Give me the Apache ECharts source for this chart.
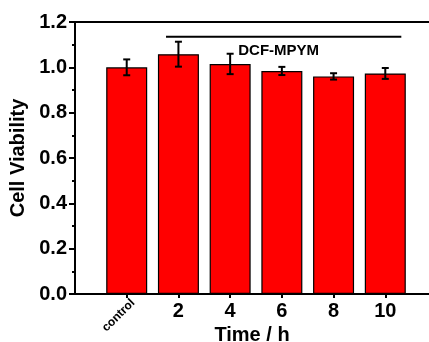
<!DOCTYPE html>
<html>
<head>
<meta charset="utf-8">
<script src="https://cdn.jsdelivr.net/npm/echarts@6/dist/echarts.min.js"></script>
<style>html,body{margin:0;padding:0;background:#fff}#c{width:429px;height:342px}</style>
</head>
<body>
<div id="c"></div>
<script>
var categories = ['control', '2', '4', '6', '8', '10'];
var viability = [1.000, 1.058, 1.015, 0.984, 0.960, 0.973];
var errors = [0.035, 0.055, 0.045, 0.018, 0.014, 0.024];
var groupLabel = 'DCF-MPYM';
var groupSpan = [0.76, 5.31];
var groupLevel = 1.135;
var yTicks = [0, 0.2, 0.4, 0.6, 0.8, 1.0, 1.2];

var FONT = '"Liberation Sans", Arial, sans-serif';
var chart = echarts.init(document.getElementById('c'), null, {renderer: 'canvas'});

var barData = viability.map(function (v, i) { return [i, v]; });
var errData = viability.map(function (v, i) { return [i, v, errors[i]]; });

chart.setOption({
  animation: false,
  grid: {left: 75, top: 22, right: -8, bottom: 48, containLabel: false, outerBoundsMode: 'none'},
  xAxis: [
    {
      type: 'value', position: 'bottom', min: -1, max: 6, interval: 1,
      splitLine: {show: false},
      axisLine: {show: true, onZero: false, lineStyle: {color: '#000', width: 2}},
      axisTick: {show: true, inside: false, length: 4, lineStyle: {color: '#000', width: 2},
        customValues: [0, 1, 2, 3, 4, 5]},
      axisLabel: {
        color: '#000', fontFamily: FONT, fontWeight: 'bold', fontSize: 20, margin: 7,
        customValues: [1, 2, 3, 4, 5],
        formatter: function (v) { return (v >= 1 && v <= 5) ? categories[v] : ''; }
      },
      name: 'Time / h', nameLocation: 'middle', nameGap: 29,
      nameTextStyle: {color: '#000', fontFamily: FONT, fontWeight: 'bold', fontSize: 20, padding: [0, 8, 0, 0]}
    },
    {
      type: 'value', position: 'bottom', offset: 0, min: -1.12, max: 5.88, interval: 1,
      splitLine: {show: false}, axisLine: {show: false}, axisTick: {show: false},
      axisLabel: {
        color: '#000', fontFamily: FONT, fontWeight: 'bold', fontSize: 12, rotate: 45, margin: 7,
        customValues: [0],
        formatter: function (v) { return v === 0 ? categories[0] : ''; }
      }
    },
    {
      type: 'value', position: 'top', min: -1, max: 6,
      splitLine: {show: false},
      axisLine: {show: true, onZero: false, lineStyle: {color: '#000', width: 2}},
      axisTick: {show: false}, axisLabel: {show: false}
    }
  ],
  yAxis: {
    type: 'value', min: 0, max: 1.2, interval: 0.2,
    splitLine: {show: false},
    axisLine: {show: true, onZero: false, lineStyle: {color: '#000', width: 2}},
    axisTick: {show: true, inside: false, length: 6, lineStyle: {color: '#000', width: 2}},
    minorTick: {show: true, splitNumber: 2, length: 3, lineStyle: {color: '#000', width: 2}},
    axisLabel: {
      color: '#000', fontFamily: FONT, fontWeight: 'bold', fontSize: 20, margin: 8,
      formatter: function (v) { return v.toFixed(1); }
    },
    name: 'Cell Viability', nameLocation: 'middle', nameGap: 44,
    nameTextStyle: {color: '#000', fontFamily: FONT, fontWeight: 'bold', fontSize: 20}
  },
  series: [
    {
      type: 'bar', xAxisIndex: 0, data: barData, barWidth: 41,
      itemStyle: {color: '#ff0000', borderColor: '#000', borderWidth: 1.2},
      z: 2
    },
    {
      type: 'custom', xAxisIndex: 0, data: errData, z: 5,
      renderItem: function (params, api) {
        var x = api.value(0), m = api.value(1), e = api.value(2);
        var top = api.coord([x, m + e]);
        var bot = api.coord([x, m - e]);
        var hw = 3.5;
        var st = {stroke: '#000', lineWidth: 2};
        return {type: 'group', children: [
          {type: 'line', shape: {x1: top[0], y1: top[1], x2: bot[0], y2: bot[1]}, style: st},
          {type: 'line', shape: {x1: top[0] - hw, y1: top[1], x2: top[0] + hw, y2: top[1]}, style: st},
          {type: 'line', shape: {x1: bot[0] - hw, y1: bot[1], x2: bot[0] + hw, y2: bot[1]}, style: st}
        ]};
      }
    },
    {
      type: 'custom', xAxisIndex: 0, data: [[groupSpan[0], groupSpan[1], groupLevel]], z: 5,
      renderItem: function (params, api) {
        var a = api.coord([api.value(0), api.value(2)]);
        var b = api.coord([api.value(1), api.value(2)]);
        var cx = (a[0] + b[0]) / 2;
        return {type: 'group', children: [
          {type: 'line', shape: {x1: a[0], y1: a[1], x2: b[0], y2: b[1]}, style: {stroke: '#000', lineWidth: 2}},
          {type: 'text', x: cx - 5, y: a[1] + 7, style: {text: groupLabel, fill: '#000',
            font: 'bold 15px ' + FONT, textAlign: 'center', textVerticalAlign: 'top'}}
        ]};
      }
    }
  ]
});
</script>
</body>
</html>
